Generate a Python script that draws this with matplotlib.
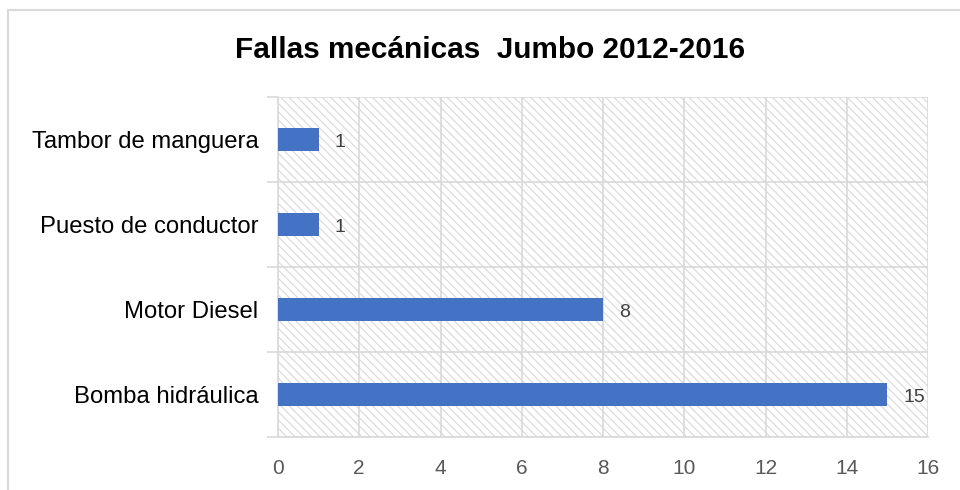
import numpy as np
import matplotlib.pyplot as plt
from matplotlib.patches import Rectangle

# datos
categorias = ["Bomba hidráulica", "Motor Diesel", "Puesto de conductor", "Tambor de manguera"]
fallas = [15, 8, 1, 1]
xticks = [0, 2, 4, 6, 8, 10, 12, 14, 16]

plt.rcParams['font.family'] = ['Liberation Sans', 'DejaVu Sans']
plt.rcParams['hatch.color'] = '#d9d9d9'
plt.rcParams['hatch.linewidth'] = 0.8

fig = plt.figure(figsize=(9.6, 4.9), dpi=100)
fig.patches.append(Rectangle((8 / 960, -0.1), 1.2, 1 - 10 / 490 + 0.1, transform=fig.transFigure,
                             fill=False, edgecolor='#d9d9d9', linewidth=1.5))

ax = fig.add_axes([278 / 960, 1 - 437 / 490, 650 / 960, 340 / 490])
# fondo rayado del area de trazado
ax.add_patch(Rectangle((0, 0), 1, 1, transform=ax.transAxes, facecolor='white',
                       edgecolor='#d9d9d9', linewidth=0, hatch='\\\\\\\\', zorder=0))

y = np.arange(len(categorias))
ax.barh(y, fallas, height=0.28, color='#4472c4', zorder=3)
for yi, v in zip(y, fallas):
    ax.text(v + 0.4, yi - 0.04, str(v), va='center', ha='left', fontsize=14, color='#404040')

ax.set_xlim(0, 16)
ax.set_ylim(-0.5, len(categorias) - 0.5)
ax.set_xticks(xticks)
ax.set_yticks(y)
ax.set_yticklabels(categorias, fontsize=17.2)
ax.set_yticks(np.arange(-0.5, len(categorias), 1), minor=True)

ax.grid(axis='x', color='#d9d9d9', linewidth=1.2, zorder=1)
ax.grid(axis='y', which='minor', color='#d9d9d9', linewidth=1.2, zorder=1)
ax.tick_params(axis='y', which='major', length=0, pad=14)
ax.tick_params(axis='y', which='minor', length=8, color='#d9d9d9', width=1.2)
ax.tick_params(axis='x', length=0, labelsize=15, labelcolor='#595959', pad=16)
ax.set_axisbelow(True)

for s in ['top', 'right']:
    ax.spines[s].set_visible(False)
ax.spines['left'].set_color('#d9d9d9')
ax.spines['bottom'].set_color('#d9d9d9')
ax.spines['left'].set_linewidth(1.2)
ax.spines['bottom'].set_linewidth(1.2)

fig.text(490 / 960, 1 - 50 / 490, "Fallas mecánicas  Jumbo 2012-2016", ha='center', va='center',
         fontsize=21.4, fontweight='bold', color='black')

fig.savefig("out.png", dpi=100)
